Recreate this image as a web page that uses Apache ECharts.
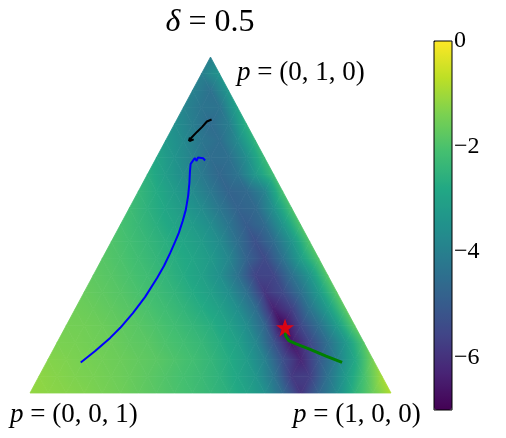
<!DOCTYPE html>
<html>
<head>
<meta charset="utf-8">
<script src="https://cdn.jsdelivr.net/npm/echarts@6/dist/echarts.min.js"></script>
<style>
  body { margin: 0; background: #fff; }
  #container { width: 506px; height: 438px; }
</style>
</head>
<body>
<div id="container"></div>
<script>
// field values at the nodes of a triangular lattice,
// one row per line, from the top vertex p=(0,1,0) down to the bottom edge
const N_ROWS = 20;
const fieldNodes = [
  [-4.0],
  [-4.0, -3.4],
  [-3.95, -4.4, -3.3],
  [-3.85, -4.3, -4.35, -3.0],
  [-3.55, -4.05, -4.55, -4.05, -2.6],
  [-3.25, -3.72, -4.25, -4.5, -3.7, -2.45],
  [-2.9, -3.42, -3.95, -4.5, -4.45, -3.6, -2.3],
  [-2.6, -3.13, -3.63, -4.15, -4.68, -4.33, -3.3, -2.2],
  [-2.37, -2.75, -3.2, -3.66, -4.2, -4.77, -4.62, -3.9, -2.1],
  [-2.2, -2.54, -2.88, -3.25, -3.64, -4.24, -4.79, -4.62, -3.5, -2.05],
  [-2.07, -2.33, -2.61, -2.91, -3.2, -3.62, -4.28, -4.98, -4.58, -3.41, -1.97],
  [-1.95, -2.14, -2.38, -2.62, -2.89, -3.19, -3.66, -4.46, -5.29, -4.55, -3.42, -1.93],
  [-1.85, -2.0, -2.19, -2.42, -2.66, -2.9, -3.25, -3.8, -4.8, -5.45, -4.4, -3.15, -1.9],
  [-1.76, -1.87, -2.03, -2.2, -2.45, -2.72, -3.05, -3.53, -4.38, -5.6, -5.55, -4.44, -3.37, -1.85],
  [-1.65, -1.76, -1.88, -2.04, -2.22, -2.46, -2.74, -3.08, -3.57, -4.43, -5.9, -5.45, -4.43, -3.23, -1.8],
  [-1.55, -1.63, -1.74, -1.86, -2.01, -2.2, -2.44, -2.71, -3.03, -3.58, -4.48, -6.35, -5.68, -4.33, -3.2, -1.75],
  [-1.48, -1.52, -1.6, -1.72, -1.84, -1.99, -2.18, -2.4, -2.64, -3.02, -3.62, -4.7, -6.9, -5.51, -4.44, -3.23, -1.75],
  [-1.4, -1.45, -1.53, -1.6, -1.73, -1.82, -2.0, -2.16, -2.37, -2.66, -3.06, -3.77, -5.15, -6.6, -5.52, -4.42, -3.31, -1.9],
  [-1.3, -1.36, -1.44, -1.52, -1.6, -1.71, -1.82, -1.98, -2.15, -2.4, -2.71, -3.18, -3.95, -5.3, -6.25, -5.06, -3.94, -2.82, -1.45],
  [-1.2, -1.29, -1.37, -1.44, -1.53, -1.64, -1.78, -1.94, -2.1, -2.28, -2.53, -2.87, -3.36, -4.3, -5.8, -5.7, -4.37, -3.22, -2.1, -1.0],
  [-1.15, -1.22, -1.28, -1.35, -1.45, -1.55, -1.7, -1.85, -2.0, -2.17, -2.37, -2.62, -2.95, -3.5, -4.6, -5.95, -4.75, -3.7, -2.5, -1.6, -0.85]
];

// trajectories, points as [p1, p2]  (p3 = 1 - p1 - p2)
const blackPath = [
  [0.096, 0.814], [0.091, 0.818], [0.086, 0.808], [0.081, 0.792], [0.074, 0.777],
  [0.068, 0.762], [0.065, 0.750], [0.063, 0.760], [0.067, 0.750], [0.076, 0.755]
];
const bluePath = [
  [0.139, 0.692], [0.130, 0.699], [0.122, 0.704], [0.115, 0.701], [0.116, 0.691],
  [0.107, 0.699], [0.104, 0.695], [0.104, 0.682], [0.114, 0.658], [0.129, 0.625],
  [0.145, 0.586], [0.159, 0.545], [0.167, 0.512], [0.174, 0.476], [0.177, 0.449],
  [0.180, 0.417], [0.182, 0.378], [0.181, 0.342], [0.176, 0.286], [0.166, 0.238],
  [0.153, 0.194], [0.140, 0.164], [0.118, 0.125], [0.095, 0.091]
];
const greenPath = [
  [0.613, 0.188], [0.623, 0.170], [0.639, 0.156], [0.664, 0.146],
  [0.711, 0.130], [0.765, 0.110], [0.819, 0.091]
];
const starPoint = [0.609, 0.195];

const colorMin = -7;
const colorMax = 0;
const colorTicks = [-6, -4, -2, 0];
const viridis = ['#440154', '#482475', '#414487', '#355f8d', '#2a788e', '#21918c',
  '#22a884', '#44bf70', '#7ad151', '#bddf26', '#fde725'];

function toPlane(p) {
  return [p[0] + p[1] / 2, p[1]];
}

// lattice node (k, j) -> [x, p2] on the plot plane
function nodePos(k, j) {
  return [0.5 - k / (2 * N_ROWS) + j / N_ROWS, 1 - k / N_ROWS];
}

function valueColor(v) {
  return echarts.color.lerp((v - colorMin) / (colorMax - colorMin), viridis);
}

// one item per small triangle: [band k, index i]; even i points up, odd i points down
const cells = [];
for (let k = 0; k < N_ROWS; k++) {
  for (let i = 0; i <= 2 * k; i++) cells.push([k, i]);
}

function renderCell(params, api) {
  const k = api.value(0), i = api.value(1);
  const j = Math.floor(i / 2);
  const nodes = i % 2 === 0
    ? [[k + 1, j], [k + 1, j + 1], [k, j]]
    : [[k, j], [k, j + 1], [k + 1, j + 1]];
  const pts = nodes.map(n => api.coord(nodePos(n[0], n[1])));
  const vals = nodes.map(n => fieldNodes[n[0]][n[1]]);

  // linear field over the triangle -> linear gradient along its slope
  const e1 = [pts[1][0] - pts[0][0], pts[1][1] - pts[0][1]];
  const e2 = [pts[2][0] - pts[0][0], pts[2][1] - pts[0][1]];
  const d1 = vals[1] - vals[0], d2 = vals[2] - vals[0];
  const det = e1[0] * e2[1] - e1[1] * e2[0];
  const g = [(d1 * e2[1] - d2 * e1[1]) / det, (e1[0] * d2 - e2[0] * d1) / det];
  const gg = g[0] * g[0] + g[1] * g[1];
  const vMin = Math.min.apply(null, vals), vMax = Math.max.apply(null, vals);
  let fill;
  if (gg < 1e-12 || vMax - vMin < 1e-6) {
    fill = valueColor(vMin);
  } else {
    const s = (vMin - vals[0]) / gg, t = (vMax - vals[0]) / gg;
    const stops = [];
    for (let q = 0; q <= 5; q++) {
      stops.push({ offset: q / 5, color: valueColor(vMin + (vMax - vMin) * q / 5) });
    }
    fill = new echarts.graphic.LinearGradient(
      pts[0][0] + g[0] * s, pts[0][1] + g[1] * s,
      pts[0][0] + g[0] * t, pts[0][1] + g[1] * t,
      stops, true);
  }
  return {
    type: 'polygon',
    shape: { points: pts },
    style: { fill: fill, stroke: fill, lineWidth: 0.8 }
  };
}

const serif = '"Liberation Serif", "DejaVu Serif", serif';
function mathText(x, y, name, rest, size, align) {
  return {
    type: 'text', x: x, y: y,
    style: {
      text: '{i|' + name + '}{n|' + rest + '}',
      textAlign: align, textVerticalAlign: 'middle',
      rich: {
        i: { fontFamily: serif, fontSize: size, fontStyle: 'italic', fill: '#000' },
        n: { fontFamily: serif, fontSize: size, fill: '#000' }
      }
    }
  };
}

const starSymbol = 'path://M50,0 L61.8,35.3 L98.9,35.3 L68.8,57.1 L80.2,92.7 L50,70.9 L19.8,92.7 L31.2,57.1 L1.1,35.3 L38.2,35.3 Z';

let mychart = echarts.init(document.getElementById('container'));

var option = {
  animation: false,
  backgroundColor: '#fff',
  grid: [
    { left: 30, top: 57, width: 361, height: 336 },
    { left: 434, top: 41, width: 18, height: 369, show: true, z: 10,
      borderColor: '#000', borderWidth: 1, backgroundColor: 'rgba(0,0,0,0)' }
  ],
  xAxis: [
    { type: 'value', gridIndex: 0, min: 0, max: 1, show: false },
    { type: 'value', gridIndex: 1, min: 0, max: 1, show: false }
  ],
  yAxis: [
    { type: 'value', gridIndex: 0, min: 0, max: 1, show: false },
    {
      type: 'value', gridIndex: 1, min: colorMin, max: colorMax, position: 'right',
      axisLine: { show: false },
      splitLine: { show: false },
      axisTick: { show: true, customValues: colorTicks, length: 7, lineStyle: { color: '#000', width: 1 } },
      axisLabel: {
        customValues: colorTicks, margin: 2, color: '#000', fontFamily: serif, fontSize: 24,
        formatter: v => (v < 0 ? '\u2212' : '') + Math.abs(v)
      }
    }
  ],
  visualMap: {
    type: 'continuous', seriesIndex: [],
    min: colorMin, max: colorMax,
    inRange: { color: viridis },
    left: 434, top: 41, itemWidth: 18, itemHeight: 369, padding: 0,
    calculable: false, hoverLink: false, text: null
  },
  graphic: [
    mathText(210, 23, '\u03b4', ' = 0.5', 32, 'center'),
    mathText(237, 73, 'p', ' = (0, 1, 0)', 27, 'left'),
    mathText(10, 415, 'p', ' = (0, 0, 1)', 27, 'left'),
    mathText(293, 415, 'p', ' = (1, 0, 0)', 27, 'left')
  ],
  series: [
    { type: 'custom', renderItem: renderCell, data: cells, xAxisIndex: 0, yAxisIndex: 0, silent: true },
    { type: 'line', data: blackPath.map(toPlane), showSymbol: false, lineStyle: { color: '#000', width: 2 }, z: 3 },
    { type: 'line', data: bluePath.map(toPlane), showSymbol: false, lineStyle: { color: '#0000ff', width: 2 }, z: 3 },
    { type: 'line', data: greenPath.map(toPlane), showSymbol: false, lineStyle: { color: '#008000', width: 3 }, z: 3 },
    {
      type: 'scatter', data: [toPlane(starPoint)], symbol: starSymbol, symbolSize: 18,
      itemStyle: { color: '#ff0000' }, z: 4
    }
  ]
};

mychart.setOption(option);
</script>
</body>
</html>
